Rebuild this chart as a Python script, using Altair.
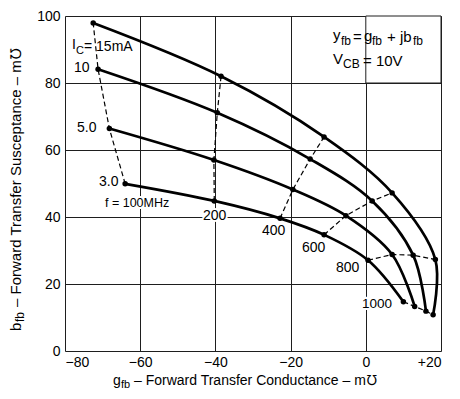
import altair as alt
import pandas as pd

# ---- data -------------------------------------------------------------
ic_names = ["3.0 mA", "5.0 mA", "10 mA", "15 mA"]
freq_mhz = [100, 200, 400, 600, 800, 1000]

g_3mA = [-64.0, -40.3, -22.8, -11.1, 0.6, 10.0]
b_3mA = [49.9, 44.8, 39.6, 34.7, 27.1, 14.7]
g_5mA = [-68.2, -40.4, -19.4, -5.3, 7.0, 13.0]
b_5mA = [66.4, 57.0, 48.2, 40.4, 28.8, 13.3]
g_10mA = [-71.2, -39.5, -14.8, 1.7, 12.6, 16.0]
b_10mA = [84.1, 71.1, 57.3, 44.8, 28.6, 11.9]
g_15mA = [-72.5, -38.5, -11.1, 7.0, 18.5, 17.9]
b_15mA = [97.9, 82.0, 63.9, 47.2, 27.3, 10.8]

x_ticks = list(range(-80, 21, 10))
y_ticks = list(range(0, 101, 10))

# annotation pieces: (text, x_px, y_px, font size) in page pixels
curve_labels = [
    ("I", 72, 45, 14), ("C", 76, 51, 11), ("= 15mA", 84, 47, 14),
    ("10", 74, 68, 14), ("5.0", 77, 128, 14), ("3.0", 99, 182, 14),
    ("f = 100MHz", 105, 203, 12.5),
    ("200", 203, 216, 14), ("400", 262, 231, 14), ("600", 302, 248, 14),
    ("800", 336, 268, 14), ("1000", 362, 304, 13.5),
]
box_labels = [
    ("y", 333, 35, 15), ("fb", 341, 41, 12), ("=", 353, 37, 15),
    ("g", 364, 36, 15), ("fb", 372, 41, 12), ("+", 387, 37, 15),
    ("jb", 400, 37, 15), ("fb", 413, 41, 12),
    ("V", 333, 59, 15), ("CB", 343, 64, 12), ("= 10V", 363, 61, 15),
]
xtitle_pieces = [
    ("g", 113, 381, 14), ("fb", 121, 385, 11),
    ("\u2013 Forward Transfer Conductance \u2013 m\u2127", 134, 381, 14),
]
ytitle_pieces = [
    ("b", 16, 331, 15), ("fb", 20, 322, 12),
    ("\u2013 Forward Transfer Susceptance \u2013 m\u2127", 16, 307, 15),
]

# ---- geometry ----------------------------------------------------------
W, H = 376, 335
X0, Y0 = 65, 16           # page position of plot origin
XMIN, XMAX, YMIN, YMAX = -80, 20, 0, 100
FONT = "Liberation Sans"
GRID = "#1e1e1e"


def to_data(pieces):
    rows = []
    for t, px, py, fs in pieces:
        rows.append(dict(
            t=t,
            gx=XMIN + (px - X0) / W * (XMAX - XMIN),
            by=YMAX - (py - Y0) / H * (YMAX - YMIN),
            fs=fs,
        ))
    return pd.DataFrame(rows)


rows = []
for order, (name, gs, bs) in enumerate(zip(
        ic_names, [g_3mA, g_5mA, g_10mA, g_15mA], [b_3mA, b_5mA, b_10mA, b_15mA])):
    for f, g, b in zip(freq_mhz, gs, bs):
        rows.append(dict(ic=name, ic_order=order, freq=f, g=g, b=b))
df = pd.DataFrame(rows)

xscale = alt.Scale(domain=[XMIN, XMAX], nice=False, zero=False)
yscale = alt.Scale(domain=[YMIN, YMAX], nice=False, zero=False)

label_expr = ("datum.value % 20 == 0 ? (datum.value > 0 ? '+' + datum.value : "
              "(datum.value < 0 ? '\u2212' + abs(datum.value) : '0')) : ''")
ylabel_expr = "datum.value % 20 == 0 ? '' + datum.value : ''"

x_enc = alt.X("g:Q", scale=xscale, axis=alt.Axis(
    values=x_ticks, labelExpr=label_expr, title=None, ticks=False, domain=False,
    grid=True, gridColor=GRID, gridWidth=1, labelFontSize=14,
    labelPadding=4, labelColor="black", labelFont=FONT))
y_enc = alt.Y("b:Q", scale=yscale, axis=alt.Axis(
    values=y_ticks, labelExpr=ylabel_expr, title=None, ticks=False, domain=False,
    grid=True, gridColor=GRID, gridWidth=1, labelFontSize=14,
    labelPadding=5, labelColor="black", labelFont=FONT))

box_df = pd.DataFrame([dict(gx=0, gx2=20, by=80, by2=100)])
box = alt.Chart(box_df).mark_rect(fill="white", stroke=GRID, strokeWidth=1).encode(
    x=alt.X("gx:Q", scale=xscale), x2="gx2:Q",
    y=alt.Y("by:Q", scale=yscale), y2="by2:Q")

lab_df = to_data(curve_labels)
halo = alt.Chart(lab_df).mark_text(
    align="left", baseline="middle", font=FONT, color="white",
    stroke="white", strokeWidth=4).encode(
    x=alt.X("gx:Q", scale=xscale), y=alt.Y("by:Q", scale=yscale),
    text="t:N", size=alt.Size("fs:Q", scale=None, legend=None))

dashed = alt.Chart(df).mark_line(
    color="black", strokeWidth=1.2, strokeDash=[5, 3]).encode(
    x=x_enc, y=y_enc, detail="freq:N", order="ic_order:Q")

curves = alt.Chart(df).mark_line(
    color="black", strokeWidth=2.7, interpolate="catmull-rom").encode(
    x=x_enc, y=y_enc, detail="ic:N", order="freq:Q")

dots = alt.Chart(df).mark_circle(color="black", size=30, opacity=1).encode(
    x=x_enc, y=y_enc)


def text_layer(pieces, angle=0):
    d = to_data(pieces)
    return alt.Chart(d).mark_text(
        align="left", baseline="middle", font=FONT, color="black", angle=angle).encode(
        x=alt.X("gx:Q", scale=xscale), y=alt.Y("by:Q", scale=yscale),
        text="t:N", size=alt.Size("fs:Q", scale=None, legend=None))


texts = text_layer(curve_labels + box_labels + xtitle_pieces)
ytexts = text_layer(ytitle_pieces, angle=270)

chart = alt.layer(box, halo, dashed, curves, dots, texts, ytexts).properties(
    width=W, height=H,
    padding={"left": 57, "top": 8, "right": 11, "bottom": 39},
    autosize=alt.AutoSizeParams(type="none"),
).configure_view(stroke="black", strokeWidth=2).configure(font=FONT)

chart.save("out.html", embed_options={"renderer": "svg", "actions": False})
